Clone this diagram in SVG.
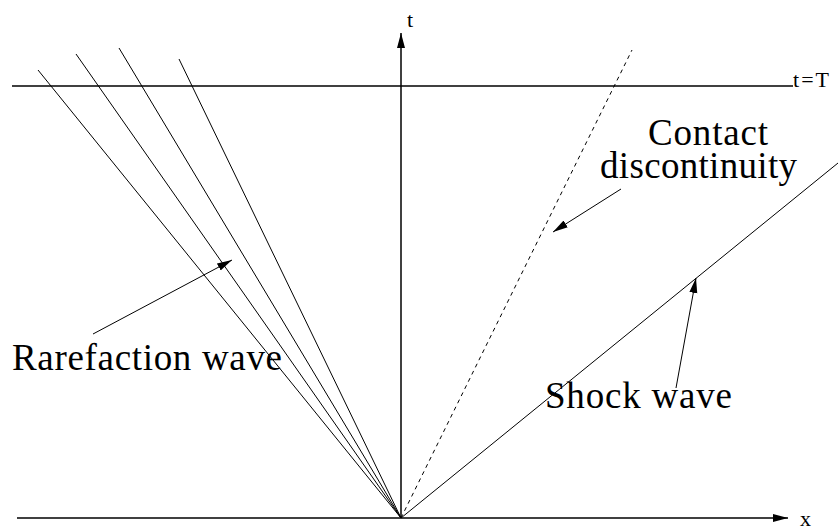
<svg xmlns="http://www.w3.org/2000/svg" width="838" height="531" viewBox="0 0 838 531">
<style>
.ax{stroke:#000;stroke-width:1.5;fill:none}
.ray{stroke:#000;stroke-width:1;fill:none}
.dash{stroke:#000;stroke-width:1;fill:none;stroke-dasharray:4,4}
.lbl{font-family:"Liberation Serif","Times New Roman",serif;fill:#000}
.big{font-size:37px}
.small{font-size:22px}
</style>
<defs>
<marker id="ah" markerWidth="16" markerHeight="10" refX="15" refY="4" orient="auto" markerUnits="userSpaceOnUse">
<path d="M0,0 L15,4 L0,8 Z" fill="#000"/>
</marker>
</defs>
<rect width="838" height="531" fill="#fff"/>
<g id="axes">
<line class="ax" x1="17" y1="518" x2="788" y2="518" marker-end="url(#ah)"/>
<line class="ax" x1="401" y1="518" x2="401" y2="33" marker-end="url(#ah)"/>
<line class="ax" x1="12" y1="86" x2="793" y2="86"/>
</g>
<g id="rays">
<line class="ray" x1="401" y1="518" x2="38" y2="70"/>
<line class="ray" x1="401" y1="518" x2="76" y2="54"/>
<line class="ray" x1="401" y1="518" x2="119" y2="48"/>
<line class="ray" x1="401" y1="518" x2="179" y2="59"/>
<line class="dash" x1="401" y1="518" x2="632" y2="50"/>
<line class="ray" x1="401" y1="518" x2="838" y2="163"/>
</g>
<g id="connectors">
<line class="ray" x1="93" y1="334" x2="232" y2="260" marker-end="url(#ah)"/>
<line class="ray" x1="621" y1="189" x2="553" y2="232" marker-end="url(#ah)"/>
<line class="ray" x1="676" y1="388" x2="696" y2="278" marker-end="url(#ah)"/>
</g>
<g id="labels">
<text class="lbl small" x="407" y="27">t</text>
<text class="lbl small" x="800" y="526">x</text>
<text class="lbl small" x="793" y="87" textLength="36">t=T</text>
<text class="lbl big" x="648" y="145" textLength="120">Contact</text>
<text class="lbl big" x="600" y="178" textLength="197">discontinuity</text>
<text class="lbl big" x="12" y="370" textLength="270">Rarefaction wave</text>
<text class="lbl big" x="545" y="408" textLength="187">Shock wave</text>
</g>
</svg>
